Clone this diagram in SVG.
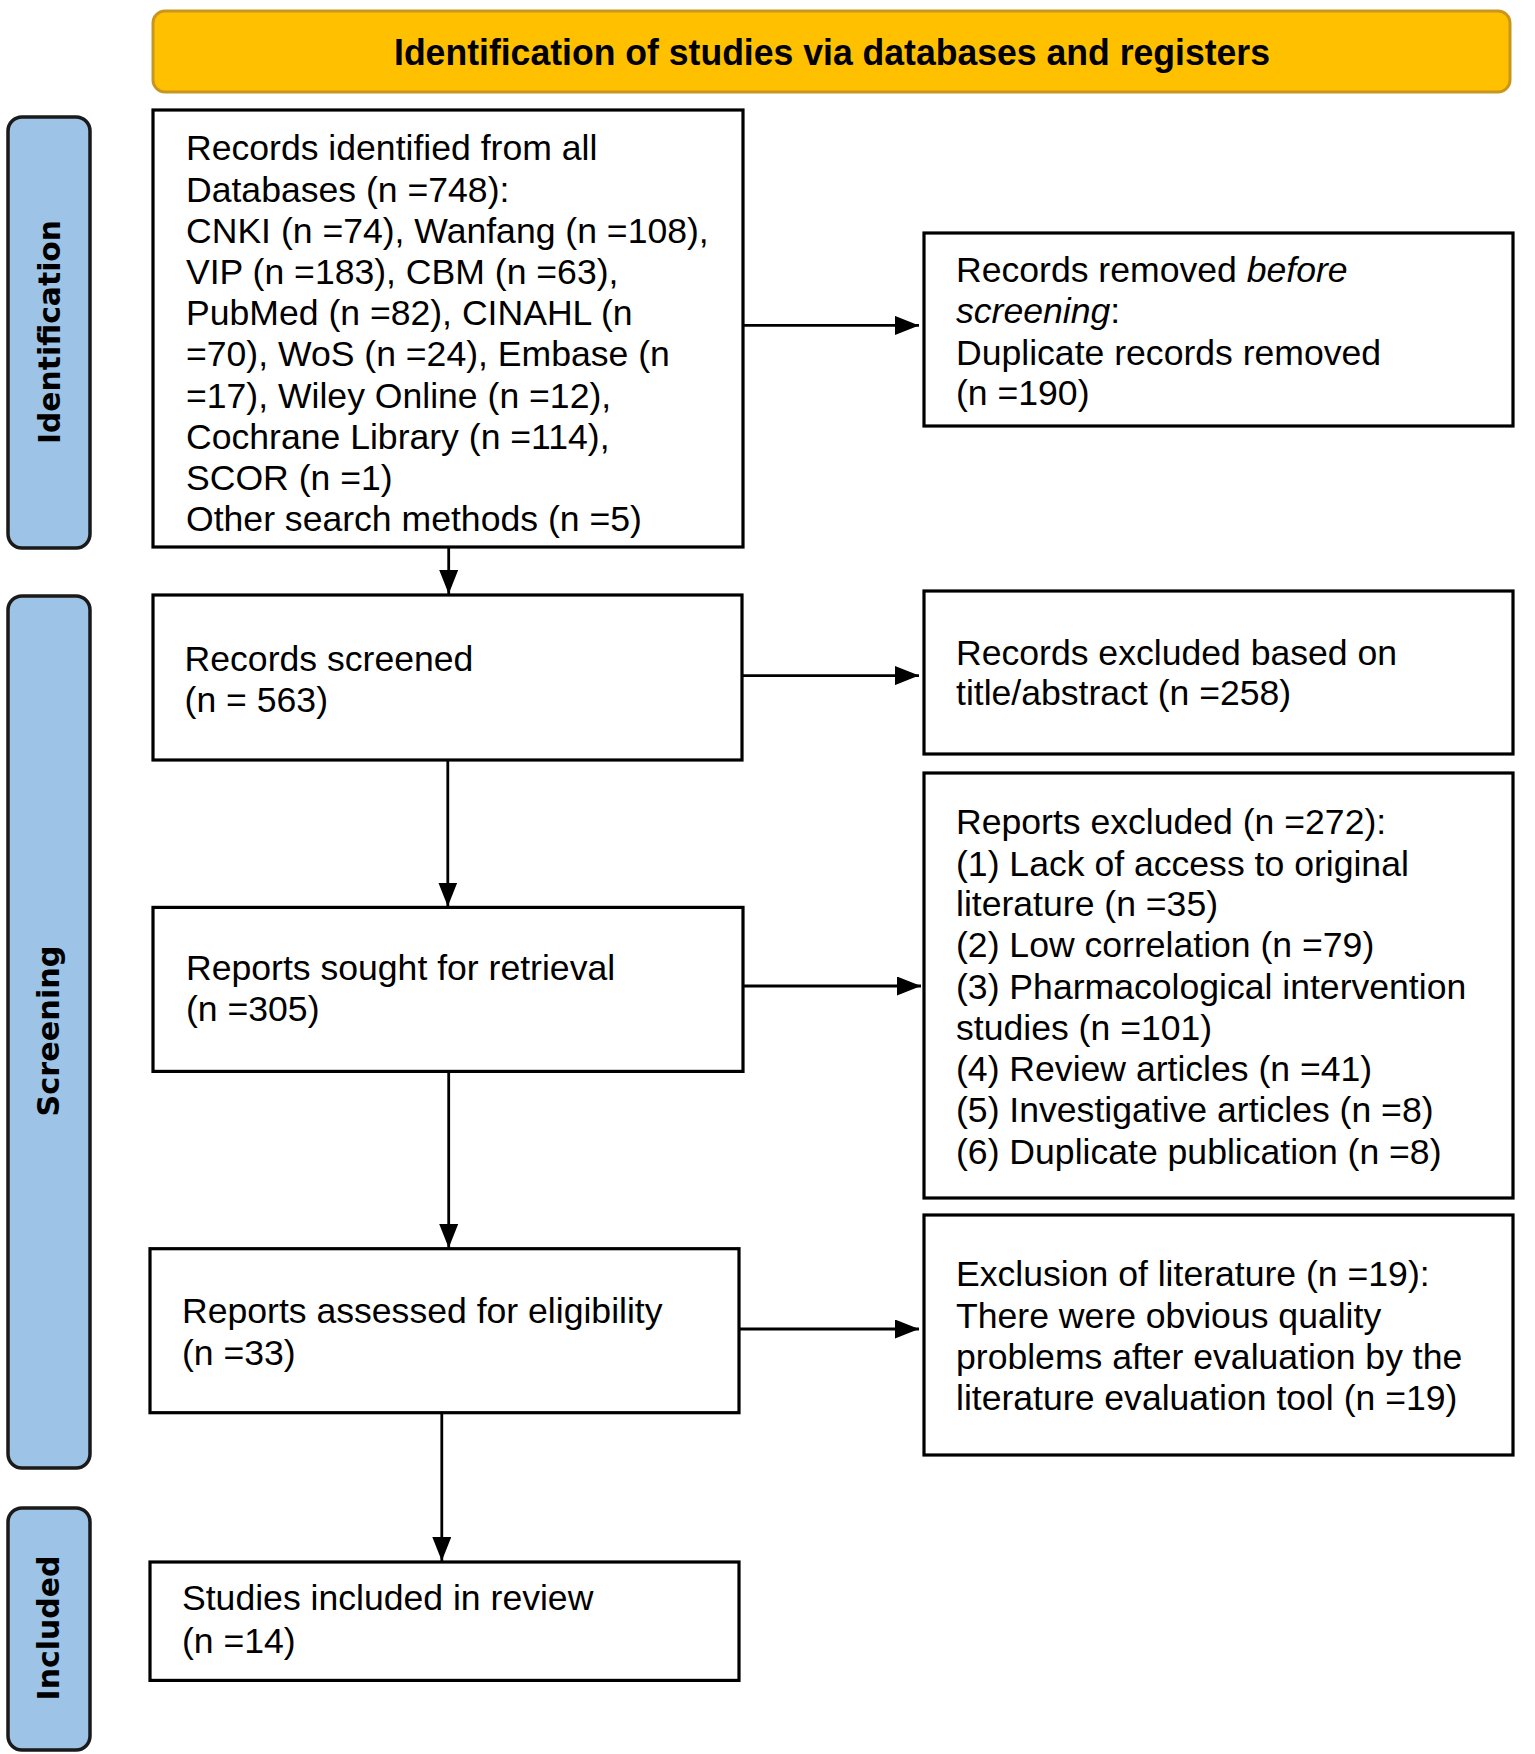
<svg xmlns="http://www.w3.org/2000/svg" width="1535" height="1754" viewBox="0 0 1535 1754">
<defs>
<marker id="arr" viewBox="0 0 24 19" refX="24" refY="9.5" markerWidth="24" markerHeight="19" markerUnits="userSpaceOnUse" orient="auto">
<path d="M0,0 L24,9.5 L0,19 Z" fill="#000"/>
</marker>
</defs>
<style>
.box{fill:#fff;stroke:#000;stroke-width:3.2}
.side{fill:#9DC3E6;stroke:#1a1a1a;stroke-width:3.5}
.hdr{fill:#FFC000;stroke:#C8961E;stroke-width:3}
.t{font-family:"Liberation Sans",Arial,sans-serif;font-size:35.6px;fill:#000}
.st{font-family:"DejaVu Sans",Verdana,sans-serif;font-weight:bold;font-size:30px;fill:#000}
.ht{font-family:"Liberation Sans",Arial,sans-serif;font-weight:bold;font-size:36px;fill:#000}
.c{stroke:#000;stroke-width:2.8;fill:none}
</style>
<rect width="1535" height="1754" fill="#fff"/>
<g id="header">
<rect class="hdr" x="153" y="11" width="1357" height="81" rx="12"/>
<text class="ht" x="832" y="65" text-anchor="middle" textLength="876" lengthAdjust="spacingAndGlyphs">Identification of studies via databases and registers</text>
</g>
<g id="side-identification">
<rect class="side" x="8" y="117" width="82" height="431" rx="14"/>
<text class="st" transform="translate(60,332) rotate(-90)" text-anchor="middle" textLength="224" lengthAdjust="spacingAndGlyphs">Identification</text>
</g>
<g id="side-screening">
<rect class="side" x="8" y="596" width="82" height="872" rx="14"/>
<text class="st" transform="translate(59,1031) rotate(-90)" text-anchor="middle" textLength="171" lengthAdjust="spacingAndGlyphs">Screening</text>
</g>
<g id="side-included">
<rect class="side" x="8" y="1508" width="82" height="242" rx="14"/>
<text class="st" transform="translate(59,1628) rotate(-90)" text-anchor="middle" textLength="145" lengthAdjust="spacingAndGlyphs">Included</text>
</g>
<g id="records-identified">
<rect class="box" x="153" y="110" width="590" height="437"/>
<text class="t" x="186" y="160">Records identified from all</text>
<text class="t" x="186" y="201.5">Databases (n =748):</text>
<text class="t" x="186" y="243">CNKI (n =74), Wanfang (n =108),</text>
<text class="t" x="186" y="284">VIP (n =183), CBM (n =63),</text>
<text class="t" x="186" y="325.4">PubMed (n =82), CINAHL (n</text>
<text class="t" x="186" y="366">=70), WoS (n =24), Embase (n</text>
<text class="t" x="186" y="407.5">=17), Wiley Online (n =12),</text>
<text class="t" x="186" y="449">Cochrane Library (n =114),</text>
<text class="t" x="186" y="489.5">SCOR (n =1)</text>
<text class="t" x="186" y="531">Other search methods (n =5)</text>
</g>
<g id="records-removed">
<rect class="box" x="924" y="233" width="589" height="193"/>
<text class="t" x="956" y="282">Records removed <tspan font-style="italic">before</tspan></text>
<text class="t" x="956" y="323.4"><tspan font-style="italic">screening</tspan>:</text>
<text class="t" x="956" y="364.7">Duplicate records removed</text>
<text class="t" x="956" y="405">(n =190)</text>
</g>
<g id="records-screened">
<rect class="box" x="153" y="595" width="589" height="165"/>
<text class="t" x="184.6" y="670.6">Records screened</text>
<text class="t" x="184.6" y="712">(n = 563)</text>
</g>
<g id="records-excluded">
<rect class="box" x="924" y="591" width="589" height="163"/>
<text class="t" x="956" y="664.7">Records excluded based on</text>
<text class="t" x="956" y="705">title/abstract (n =258)</text>
</g>
<g id="reports-sought">
<rect class="box" x="153" y="907.4" width="590" height="164"/>
<text class="t" x="186" y="980">Reports sought for retrieval</text>
<text class="t" x="186" y="1021.4">(n =305)</text>
</g>
<g id="reports-excluded">
<rect class="box" x="924" y="773" width="589" height="425"/>
<text class="t" x="956" y="834">Reports excluded (n =272):</text>
<text class="t" x="956" y="875.6">(1) Lack of access to original</text>
<text class="t" x="956" y="916.4">literature (n =35)</text>
<text class="t" x="956" y="957">(2) Low correlation (n =79)</text>
<text class="t" x="956" y="999">(3) Pharmacological intervention</text>
<text class="t" x="956" y="1040">studies (n =101)</text>
<text class="t" x="956" y="1080.6">(4) Review articles (n =41)</text>
<text class="t" x="956" y="1122.4">(5) Investigative articles (n =8)</text>
<text class="t" x="956" y="1163.6">(6) Duplicate publication (n =8)</text>
</g>
<g id="reports-assessed">
<rect class="box" x="150" y="1248.7" width="589" height="164"/>
<text class="t" x="182" y="1322.8">Reports assessed for eligibility</text>
<text class="t" x="182" y="1365">(n =33)</text>
</g>
<g id="exclusion-literature">
<rect class="box" x="924" y="1215" width="589" height="240"/>
<text class="t" x="956" y="1285.5">Exclusion of literature (n =19):</text>
<text class="t" x="956" y="1327.8">There were obvious quality</text>
<text class="t" x="956" y="1368.6">problems after evaluation by the</text>
<text class="t" x="956" y="1410">literature evaluation tool (n =19)</text>
</g>
<g id="studies-included">
<rect class="box" x="150" y="1562" width="589" height="118.4"/>
<text class="t" x="182" y="1610.4">Studies included in review</text>
<text class="t" x="182" y="1652.7">(n =14)</text>
</g>
<g id="connectors">
<line class="c" x1="743" y1="325.4" x2="919" y2="325.4" marker-end="url(#arr)"/>
<line class="c" x1="742" y1="675.6" x2="919" y2="675.6" marker-end="url(#arr)"/>
<line class="c" x1="743" y1="986" x2="921" y2="986" marker-end="url(#arr)"/>
<line class="c" x1="739" y1="1329" x2="919" y2="1329" marker-end="url(#arr)"/>
<line class="c" x1="448.7" y1="547" x2="448.7" y2="594" marker-end="url(#arr)"/>
<line class="c" x1="447.8" y1="760" x2="447.8" y2="906.5" marker-end="url(#arr)"/>
<line class="c" x1="448.7" y1="1071.6" x2="448.7" y2="1248" marker-end="url(#arr)"/>
<line class="c" x1="441.8" y1="1413" x2="441.8" y2="1561" marker-end="url(#arr)"/>
</g>
</svg>
